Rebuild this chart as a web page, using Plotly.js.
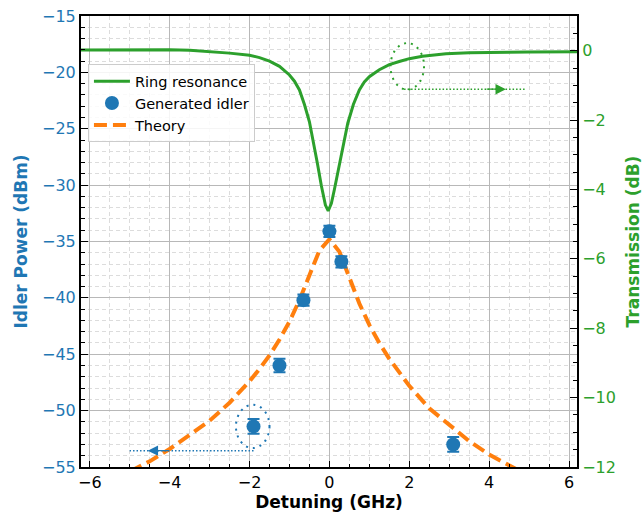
<!DOCTYPE html>
<html>
<head>
<meta charset="utf-8">
<script src="https://cdn.plot.ly/plotly-3.0.1.min.js"></script>
<style>html,body{margin:0;padding:0;background:#fff;}#chart{width:643px;height:515px;}</style>
</head>
<body>
<div id="chart"></div>
<script>
// Ring resonance transmission (dB) vs detuning (GHz)
const ringX = [-6.22, -5.5, -5.0, -4.5, -4.0, -3.5, -3.0, -2.5, -2.0, -1.75, -1.5, -1.25, -1.0, -0.875, -0.75, -0.625, -0.5, -0.4, -0.3, -0.2, -0.1, -0.03, 0.05, 0.125, 0.2, 0.29, 0.375, 0.46, 0.6, 0.75, 0.875, 1.0, 1.25, 1.5, 1.75, 2.0, 2.33, 2.92, 3.5, 4.0, 5.0, 6.2];
const ringDb = [0.02, 0.03, 0.03, 0.03, 0.03, 0.01, -0.02, -0.07, -0.13, -0.2, -0.3, -0.45, -0.7, -0.88, -1.13, -1.55, -2.05, -2.6, -3.25, -3.9, -4.45, -4.62, -4.4, -4.0, -3.55, -3.05, -2.55, -2.09, -1.55, -1.13, -0.9, -0.75, -0.55, -0.4, -0.31, -0.23, -0.16, -0.09, -0.06, -0.05, -0.04, -0.03];

// Generated idler measurements (dBm)
const idlerX = [-1.9, -1.25, -0.65, 0.0, 0.3, 3.1];
const idlerY = [-51.4, -46.0, -40.2, -34.1, -36.8, -53.0];
const idlerErr = [0.65, 0.6, 0.5, 0.5, 0.5, 0.65];

// Theory curve (dBm)
const theoryX = [-5, -4.5, -4, -3.5, -3, -2.5, -2, -1.75, -1.5, -1.25, -1, -0.75, -0.5, -0.25, 0, 0.25, 0.5, 0.75, 1, 1.25, 1.5, 1.75, 2, 2.5, 3, 3.5, 4, 4.5, 5];
const theoryY = [-55.4, -54.5, -53.4, -52.2, -50.9, -49.3, -47.4, -46.3, -45.1, -43.7, -42.1, -40.2, -38.0, -35.8, -34.8, -35.9, -38.2, -40.5, -42.4, -44.0, -45.4, -46.6, -47.8, -49.8, -51.3, -52.7, -53.9, -54.9, -55.8];

// Legend names
const names = ["Ring resonance", "Generated idler", "Theory"];

const BLUE = "#1f77b4", ORANGE = "#ff7f0e", GREEN = "#2ca02c";
const FONT = "DejaVu Sans";

const traces = [
  {x: theoryX, y: theoryY, name: names[2], type: "scatter", mode: "lines",
   line: {color: ORANGE, width: 4, dash: "13px,6px"}, xaxis: "x", yaxis: "y", legendrank: 3},
  {x: idlerX, y: idlerY, name: names[1], type: "scatter", mode: "markers",
   marker: {color: BLUE, size: 14},
   error_y: {type: "data", array: idlerErr, visible: true, color: BLUE, thickness: 2, width: 6},
   xaxis: "x", yaxis: "y", legendrank: 2},
  {x: ringX, y: ringDb, name: names[0], type: "scatter", mode: "lines",
   line: {color: GREEN, width: 3}, xaxis: "x", yaxis: "y2", legendrank: 1}
];

const layout = {
  width: 643, height: 515,
  margin: {l: 81, r: 66, t: 16, b: 48},
  paper_bgcolor: "#fff", plot_bgcolor: "#fff",
  font: {family: FONT, size: 16, color: "#000"},
  showlegend: true,
  legend: {x: 0.014, y: 0.893, xanchor: "left", yanchor: "top",
    bgcolor: "rgba(255,255,255,0.85)", bordercolor: "#cccccc", borderwidth: 1,
    itemwidth: 36,
    font: {family: FONT, size: 14.5, color: "#000"}, tracegroupgap: 0},
  xaxis: {
    range: [-6.22, 6.2], dtick: 2, tick0: 0, zeroline: false,
    showline: true, linecolor: "#000", linewidth: 2, mirror: true,
    ticks: "inside", ticklen: 6, tickwidth: 1, tickcolor: "#000",
    showgrid: true, gridcolor: "#b8b8b8", gridwidth: 1,
    tickfont: {family: FONT, size: 16, color: "#000"},
    minor: {dtick: 0.5, ticks: "inside", ticklen: 3, tickcolor: "#000", showgrid: true, gridcolor: "#dcdcdc", griddash: "4px,3px", gridwidth: 1},
    title: {text: "<b>Detuning (GHz)</b>", font: {family: FONT, size: 17, color: "#000"}, standoff: 5},
    automargin: false
  },
  yaxis: {
    range: [-55, -15], dtick: 5, tick0: 0, zeroline: false,
    showline: true, linecolor: "#000", linewidth: 2,
    ticks: "inside", ticklen: 7, tickwidth: 1, tickcolor: "#000",
    showgrid: true, gridcolor: "#b8b8b8", gridwidth: 1,
    tickfont: {family: FONT, size: 16, color: BLUE},
    minor: {dtick: 1, ticks: "inside", ticklen: 4, tickcolor: "#000", showgrid: true, gridcolor: "#dcdcdc", griddash: "4px,3px", gridwidth: 1},
    title: {text: "<b>Idler Power (dBm)</b>", font: {family: FONT, size: 17, color: BLUE}, standoff: 10},
    automargin: false
  },
  yaxis2: {
    overlaying: "y", side: "right", anchor: "x",
    range: [-12, 1], dtick: 2, tick0: 0, zeroline: false,
    showline: true, linecolor: "#000", linewidth: 2,
    ticks: "inside", ticklen: 7, tickwidth: 1, tickcolor: "#000",
    showgrid: false,
    tickfont: {family: FONT, size: 16, color: GREEN},
    minor: {dtick: 0.5, ticks: "inside", ticklen: 4, tickcolor: "#000", showgrid: false},
    title: {text: "<b>Transmission (dB)</b>", font: {family: FONT, size: 17, color: GREEN}, standoff: 12},
    automargin: false
  },
  shapes: [
    {type: "circle", xref: "x", yref: "y", x0: -2.34, x1: -1.5, y0: -53.32, y1: -49.48,
     line: {color: BLUE, width: 2, dash: "2px,5px"}},
    {type: "line", xref: "x", yref: "y", x0: -1.9, x1: -5.0, y0: -53.55, y1: -53.55,
     line: {color: BLUE, width: 1.5, dash: "1.5px,2px"}},
    {type: "circle", xref: "x", yref: "y2", x0: 1.53, x1: 2.37, y0: -1.12, y1: 0.22,
     line: {color: GREEN, width: 2, dash: "2px,5px"}},
    {type: "line", xref: "x", yref: "y2", x0: 1.87, x1: 4.92, y0: -1.11, y1: -1.11,
     line: {color: GREEN, width: 1.5, dash: "1.5px,2px"}}
  ],
  annotations: [
    {xref: "x", yref: "y", axref: "x", ayref: "y", x: -4.55, y: -53.55, ax: -4.0, ay: -53.55,
     text: "", showarrow: true, arrowhead: 2, arrowsize: 1.6, arrowwidth: 1.3, arrowcolor: BLUE},
    {xref: "x", yref: "y2", axref: "x", ayref: "y2", x: 4.42, y: -1.11, ax: 3.9, ay: -1.11,
     text: "", showarrow: true, arrowhead: 2, arrowsize: 1.6, arrowwidth: 1.3, arrowcolor: GREEN}
  ]
};

Plotly.newPlot("chart", traces, layout, {displayModeBar: false, staticPlot: true});
</script>
</body>
</html>
